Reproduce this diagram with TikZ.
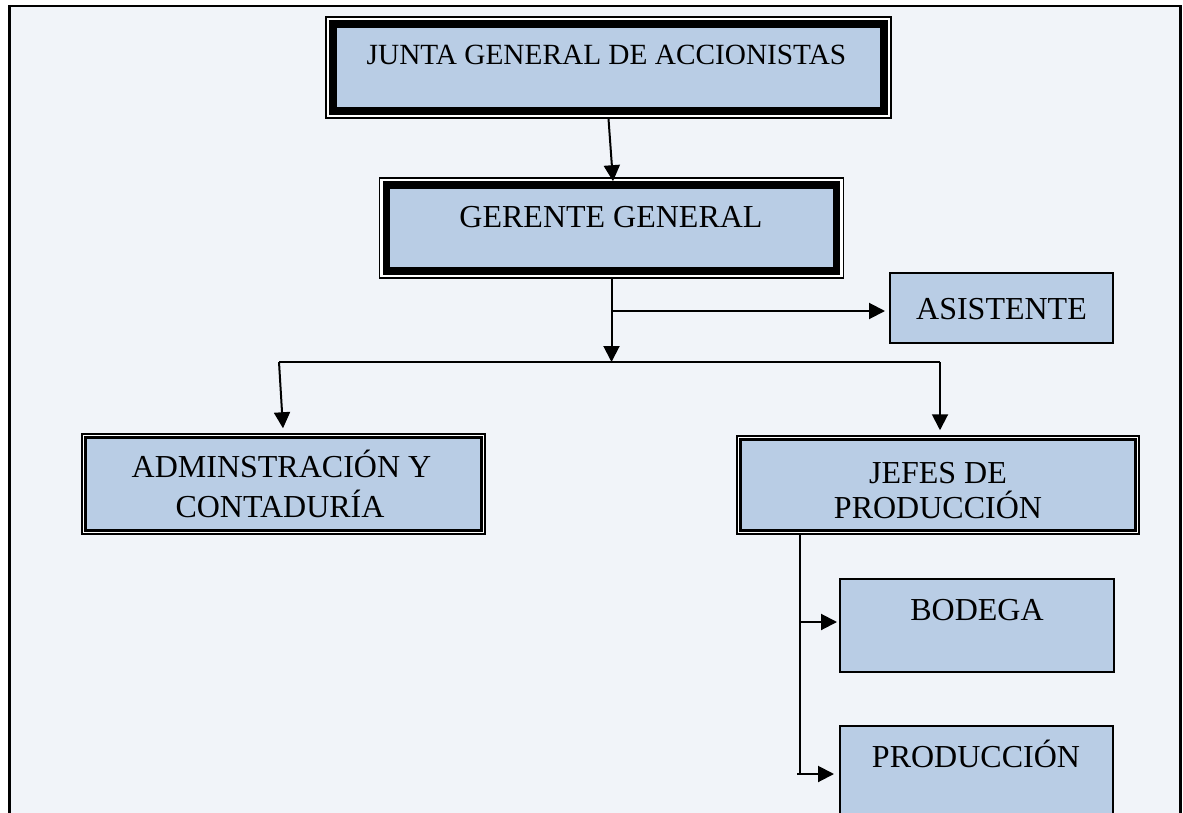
\documentclass[tikz,border=0pt]{standalone}
\usepackage{fontspec}
\setmainfont{Liberation Serif}
\usetikzlibrary{arrows.meta,calc}

\definecolor{pagebg}{RGB}{241,244,249}
\definecolor{boxblue}{RGB}{185,205,229}

\tikzset{
  frame/.style={draw=black, line width=2.2, fill=pagebg},
  heavybox/.style={rectangle, draw=black, line width=1.6, fill=white, inner sep=0},
  doublebox/.style={rectangle, draw=black, line width=1.5, fill=white, inner sep=0},
  plainbox/.style={rectangle, draw=black, line width=2, fill=boxblue, inner sep=0},
  heavyband/.style={draw=black, line width=7.8, fill=boxblue},
  innerline/.style={draw=black, line width=3, fill=boxblue},
  link/.style={draw=black, line width=2},
  arr/.style={link, -{Triangle[length=16pt,width=16pt]}},
  lbl/.style={anchor=base, inner sep=0, font=\fontsize{32}{38}\selectfont},
}

\begin{document}
\begin{tikzpicture}[x=1pt, y=-1pt]
  \clip (0,0) rectangle (1183,813);
  \fill[white] (0,0) rectangle (1183,813);
  % page frame (its lower edge runs past the bottom)
  \draw[frame] (9.5,6) rectangle (1180.5,850);

  % boxes
  \node[heavybox, minimum width=565, minimum height=101] (junta) at (608.5,67.5) {};
  \draw[heavyband] ($(junta.north west)+(7.8,7.8)$) rectangle ($(junta.south east)+(-7.8,-7.8)$);

  \node[heavybox, minimum width=464, minimum height=100] (gerente) at (611.5,228) {};
  \draw[heavyband] ($(gerente.north west)+(7.8,7.8)$) rectangle ($(gerente.south east)+(-7.8,-7.8)$);

  \node[plainbox, minimum width=223, minimum height=70] (asist) at (1001.5,308) {};

  \node[doublebox, minimum width=403, minimum height=100] (admin) at (283.5,484) {};
  \draw[innerline] ($(admin.north west)+(4.7,4.7)$) rectangle ($(admin.south east)+(-4.7,-4.7)$);

  \node[doublebox, minimum width=402, minimum height=98] (jefes) at (938,485) {};
  \draw[innerline] ($(jefes.north west)+(4.7,4.7)$) rectangle ($(jefes.south east)+(-4.7,-4.7)$);

  \node[plainbox, minimum width=274, minimum height=93] (bodega) at (977,625.5) {};
  \node[plainbox, minimum width=273, minimum height=110] (produc) at (976.5,781) {};

  % labels
  \node[lbl, font=\fontsize{29.3}{34}\selectfont] (tJunta) at (606.5,65) {JUNTA GENERAL DE ACCIONISTAS};
  \node[lbl] (tGer) at (611,228) {GERENTE GENERAL};
  \node[lbl] (tAsis) at (1001.5,319) {ASISTENTE};
  \node[lbl] (tAdm1) at (281.5,477) {ADMINSTRACIÓN Y};
  \node[lbl] (tAdm2) at (280,517) {CONTADURÍA};
  \node[lbl] (tJef1) at (938,483) {JEFES DE};
  \node[lbl] (tJef2) at (938,518) {PRODUCCIÓN};
  \node[lbl] (tBod) at (977,620) {BODEGA};
  \node[lbl] (tProd) at (976,767) {PRODUCCIÓN};

  % connectors
  \draw[arr] ($(junta.south)+(0,0)$) -- ($(gerente.north)+(1.5,4)$);

  \coordinate (busL) at (279,362);
  \coordinate (busR) at (940,362);
  \draw[link] (busL) -- (busR);
  \draw[arr] (gerente.south) -- (gerente.south |- busL);

  \coordinate (tap) at (611.5,311);
  \draw[arr] (tap) -- ($(tap -| asist.west)+(-4,0)$);

  \draw[arr] (busL) -- ($(admin.north)+(-0.5,-5)$);
  \draw[arr] (busR) -- ($(busR |- jefes.north)+(0,-5)$);

  \path (jefes.south) ++(-138,0) coordinate (trunkTop);
  \coordinate (tapB) at (800,622);
  \coordinate (tapP) at (797,774);
  \draw[link] (trunkTop) -- (trunkTop |- tapP);
  \draw[arr] (tapB) -- ($(tapB -| bodega.west)+(-2,0)$);
  \draw[arr] (tapP) -- ($(tapP -| produc.west)+(-5,0)$);
\end{tikzpicture}
\end{document}
